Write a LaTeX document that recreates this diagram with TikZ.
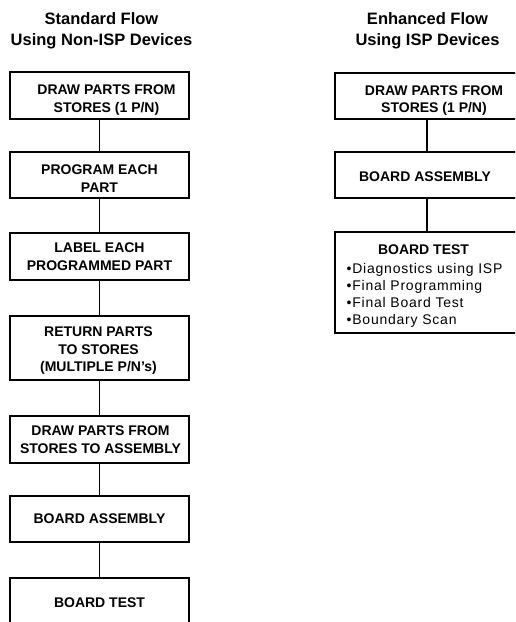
\documentclass[tikz,border=0pt]{standalone}
\usepackage{fontspec}
\setmainfont{Liberation Sans}
\newcommand{\boxfont}{\fontsize{14}{17.5}\selectfont\bfseries}
\newcommand{\titlefont}{\fontsize{16.5}{21}\selectfont\bfseries}
\newcommand{\bulletfont}{\fontsize{14}{17.3}\selectfont\addfontfeature{LetterSpace=5.5}}
\begin{document}
\begin{tikzpicture}[x=1pt,y=-1pt,
  flowbox/.style={draw, line width=1.1pt, inner sep=0pt},
  leftbox/.style={flowbox, minimum width=179pt},
  rightbox/.style={flowbox, minimum width=184pt},
  boxtext/.style={align=center, font=\boxfont, inner sep=0pt},
  title/.style={align=center, font=\titlefont, inner sep=0pt},
  bulletline/.style={anchor=base west, inner sep=0pt, font=\bulletfont},
  link/.style={line width=1.1pt}]
\useasboundingbox (0,0) rectangle (515,622);
\clip (0,0) rectangle (515,622);
\fill[white] (0,0) rectangle (515,622);

% titles
\node[title] (t1) at (101.5,30.5) {Standard Flow\\Using Non-ISP Devices};
\node[title] (t2) at (427.5,30.5) {Enhanced Flow\\Using ISP Devices};

% left column boxes
\node[leftbox, minimum height=47pt] (L1) at (99.5,95.5) {};
\node[leftbox, minimum height=46pt] (L2) at (99.5,175) {};
\node[leftbox, minimum height=47pt] (L3) at (99.5,256.5) {};
\node[leftbox, minimum height=64pt] (L4) at (99.5,348) {};
\node[leftbox, minimum height=47pt] (L5) at (99.5,439.5) {};
\node[leftbox, minimum height=46pt] (L6) at (99.5,519) {};
\node[leftbox, minimum height=50pt] (L7) at (99.5,603) {};

% left column texts
\node[boxtext] (L1t) at ([xshift=7pt,yshift=-4.5pt]L1.center) {DRAW PARTS FROM\\STORES (1 P/N)};
\node[boxtext] (L2t) at ([yshift=-3.5pt]L2.center) {PROGRAM EACH\\PART};
\node[boxtext] (L3t) at ([yshift=0pt]L3.center) {LABEL EACH\\PROGRAMMED PART};
\node[boxtext] (L4t) at ([xshift=-1pt,yshift=-3pt]L4.center) {RETURN PARTS\\TO STORES\\(MULTIPLE P/N's)};
\node[boxtext] (L5t) at ([xshift=1pt]L5.center) {DRAW PARTS FROM\\STORES TO ASSEMBLY};
\node[boxtext] (L6t) at (L6.center) {BOARD ASSEMBLY};
\node[boxtext] (L7t) at ([yshift=0.5pt]L7.center) {BOARD TEST};

\draw[link] (L1.south) -- (L2.north);
\draw[link] (L2.south) -- (L3.north);
\draw[link] (L3.south) -- (L4.north);
\draw[link] (L4.south) -- (L5.north);
\draw[link] (L5.south) -- (L6.north);
\draw[link] (L6.south) -- (L7.north);

% right column
\node[rightbox, minimum height=46pt] (R1) at (427,96) {};
\node[rightbox, minimum height=46pt] (R2) at (427,175) {};
\node[rightbox, minimum height=101pt] (R3) at (427,282.5) {};

\node[boxtext] (R1t) at ([xshift=7pt,yshift=-4.5pt]R1.center) {DRAW PARTS FROM\\STORES (1 P/N)};
\node[boxtext] (R2t) at ([xshift=-2pt,yshift=-2pt]R2.center) {BOARD ASSEMBLY};
\node[anchor=base, inner sep=0pt, font=\boxfont] (R3t) at (423.5,254) {BOARD TEST};
\node[bulletline] (b1) at (346.5,273) {•Diagnostics using ISP};
\node[bulletline] (b2) at (346.5,290.5) {•Final Programming};
\node[bulletline] (b3) at (346.5,307.5) {•Final Board Test};
\node[bulletline] (b4) at (346.5,324.5) {•Boundary Scan};

\draw[link] (R1.south) -- (R2.north);
\draw[link] (R2.south) -- (R3.north);
\end{tikzpicture}
\end{document}
